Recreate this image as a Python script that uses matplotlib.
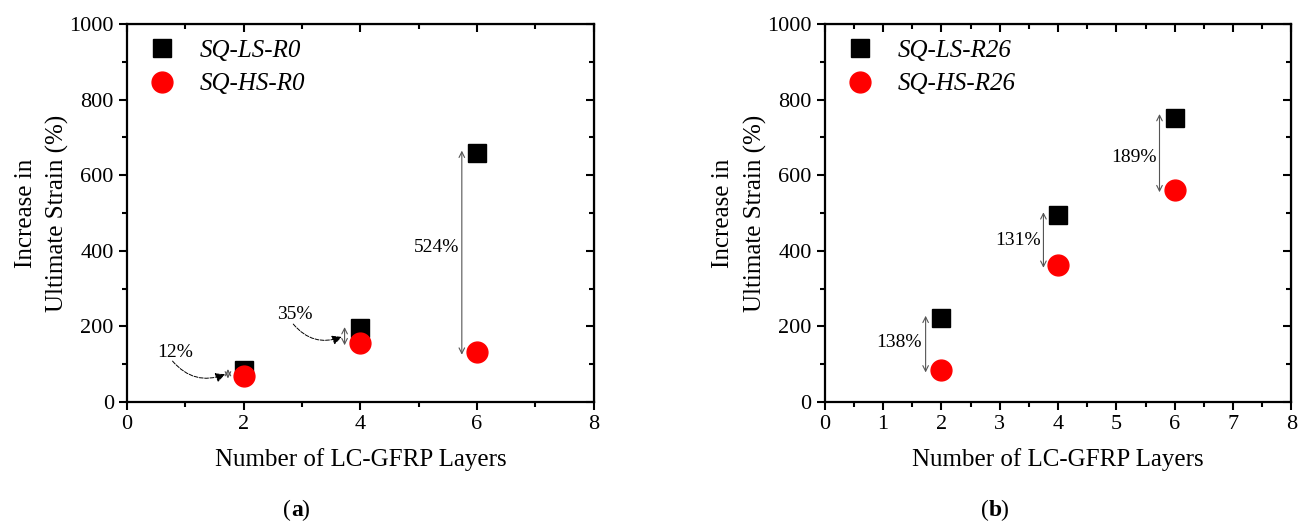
import matplotlib.pyplot as plt
from matplotlib.ticker import MultipleLocator

plt.rcParams['font.family'] = ['Liberation Serif', 'DejaVu Serif']

# layers of LC-GFRP
layers = [2, 4, 6]

# increase in ultimate strain (%)
ls_r0 = [85, 195, 659]
hs_r0 = [69, 157, 133]
ls_r26 = [222, 495, 752]
hs_r26 = [85, 362, 562]

labels_r0 = ["SQ-LS-R0", "SQ-HS-R0"]
labels_r26 = ["SQ-LS-R26", "SQ-HS-R26"]

gain_r0 = ["12%", "35%", "524%"]
gain_r26 = ["138%", "131%", "189%"]

fig = plt.figure(figsize=(13.07, 5.24), dpi=100)
ax1 = fig.add_axes([0.0972, 0.233, 0.357, 0.721])
ax2 = fig.add_axes([0.631, 0.233, 0.357, 0.721])


def tick_style(axis_obj, direction):
    axis_obj.tick_params(which='both', direction=direction, width=1.5)
    axis_obj.tick_params(which='major', length=6)
    axis_obj.tick_params(which='minor', length=3.5)


def setup(ax, labels, ls, hs, xmajor, xminor):
    ax.plot(layers, ls, 's', color='black', markersize=13, label=labels[0], zorder=3)
    ax.plot(layers, hs, 'o', color='red', markersize=15, label=labels[1], zorder=4)
    ax.set_xlim(0, 8)
    ax.set_ylim(0, 1000)
    ax.xaxis.set_major_locator(MultipleLocator(xmajor))
    ax.xaxis.set_minor_locator(MultipleLocator(xminor))
    ax.yaxis.set_major_locator(MultipleLocator(200))
    ax.yaxis.set_minor_locator(MultipleLocator(100))
    tick_style(ax, 'out')
    ax.tick_params(labelsize=16)
    for s in ax.spines.values():
        s.set_linewidth(1.6)
    # mirrored ticks on top and right, pointing inward
    top = ax.secondary_xaxis('top')
    top.xaxis.set_major_locator(MultipleLocator(xmajor))
    top.xaxis.set_minor_locator(MultipleLocator(xminor))
    top.set_xticklabels([])
    tick_style(top, 'in')
    right = ax.secondary_yaxis('right')
    right.yaxis.set_major_locator(MultipleLocator(200))
    right.yaxis.set_minor_locator(MultipleLocator(100))
    right.set_yticklabels([])
    tick_style(right, 'in')
    ax.set_xlabel("Number of LC-GFRP Layers", fontsize=18, labelpad=10)
    ax.set_ylabel("Increase in\nUltimate Strain (%)", fontsize=18, labelpad=0,
                  linespacing=1.55)
    ax.legend(loc='upper left', frameon=False, prop={'style': 'italic', 'size': 18},
              handlelength=1.6, handletextpad=0.72, borderaxespad=0.2,
              labelspacing=0.45, bbox_to_anchor=(0.0, 1.0))


setup(ax1, labels_r0, ls_r0, hs_r0, 2, 1)
setup(ax2, labels_r26, ls_r26, hs_r26, 1, 0.5)

arrow_kw = dict(arrowstyle='<->', color='#555555', lw=0.8, shrinkA=0, shrinkB=0)


def double_arrow(ax, x, y0, y1):
    ax.annotate('', xy=(x, y1), xytext=(x, y0), arrowprops=arrow_kw, zorder=2)


# panel (a)
double_arrow(ax1, 1.73, 87, 62)
double_arrow(ax1, 3.73, 198, 150)
double_arrow(ax1, 5.74, 665, 125)
ax1.text(5.31, 410, gain_r0[2], fontsize=14, ha='center', va='center')
ax1.text(0.82, 132, gain_r0[0], fontsize=14, ha='center', va='center')
ax1.text(2.88, 232, gain_r0[1], fontsize=14, ha='center', va='center')
curved = dict(arrowstyle='-|>', color='black', lw=0.7, linestyle=(0, (4, 1.5)),
              connectionstyle='arc3,rad=0.35', mutation_scale=14, shrinkA=0, shrinkB=0)
ax1.annotate('', xy=(1.68, 73), xytext=(0.78, 108), arrowprops=curved)
ax1.annotate('', xy=(3.68, 172), xytext=(2.85, 206), arrowprops=curved)

# panel (b)
double_arrow(ax2, 1.73, 228, 78)
double_arrow(ax2, 3.75, 502, 355)
double_arrow(ax2, 5.74, 762, 555)
ax2.text(1.28, 156, gain_r26[0], fontsize=14, ha='center', va='center')
ax2.text(3.31, 428, gain_r26[1], fontsize=14, ha='center', va='center')
ax2.text(5.31, 648, gain_r26[2], fontsize=14, ha='center', va='center')

# sub-figure captions with a bold letter
for x_open, x_close, letter in ((0.2226, 0.2306, "a"), (0.7567, 0.7651, "b")):
    fig.text(x_open, 0.005, "(", fontsize=17, ha='right', va='bottom')
    fig.text(x_open, 0.005, letter, fontsize=17, ha='left', va='bottom', fontweight='bold')
    fig.text(x_close, 0.005, ")", fontsize=17, ha='left', va='bottom')

fig.savefig("out.png", dpi=100)
